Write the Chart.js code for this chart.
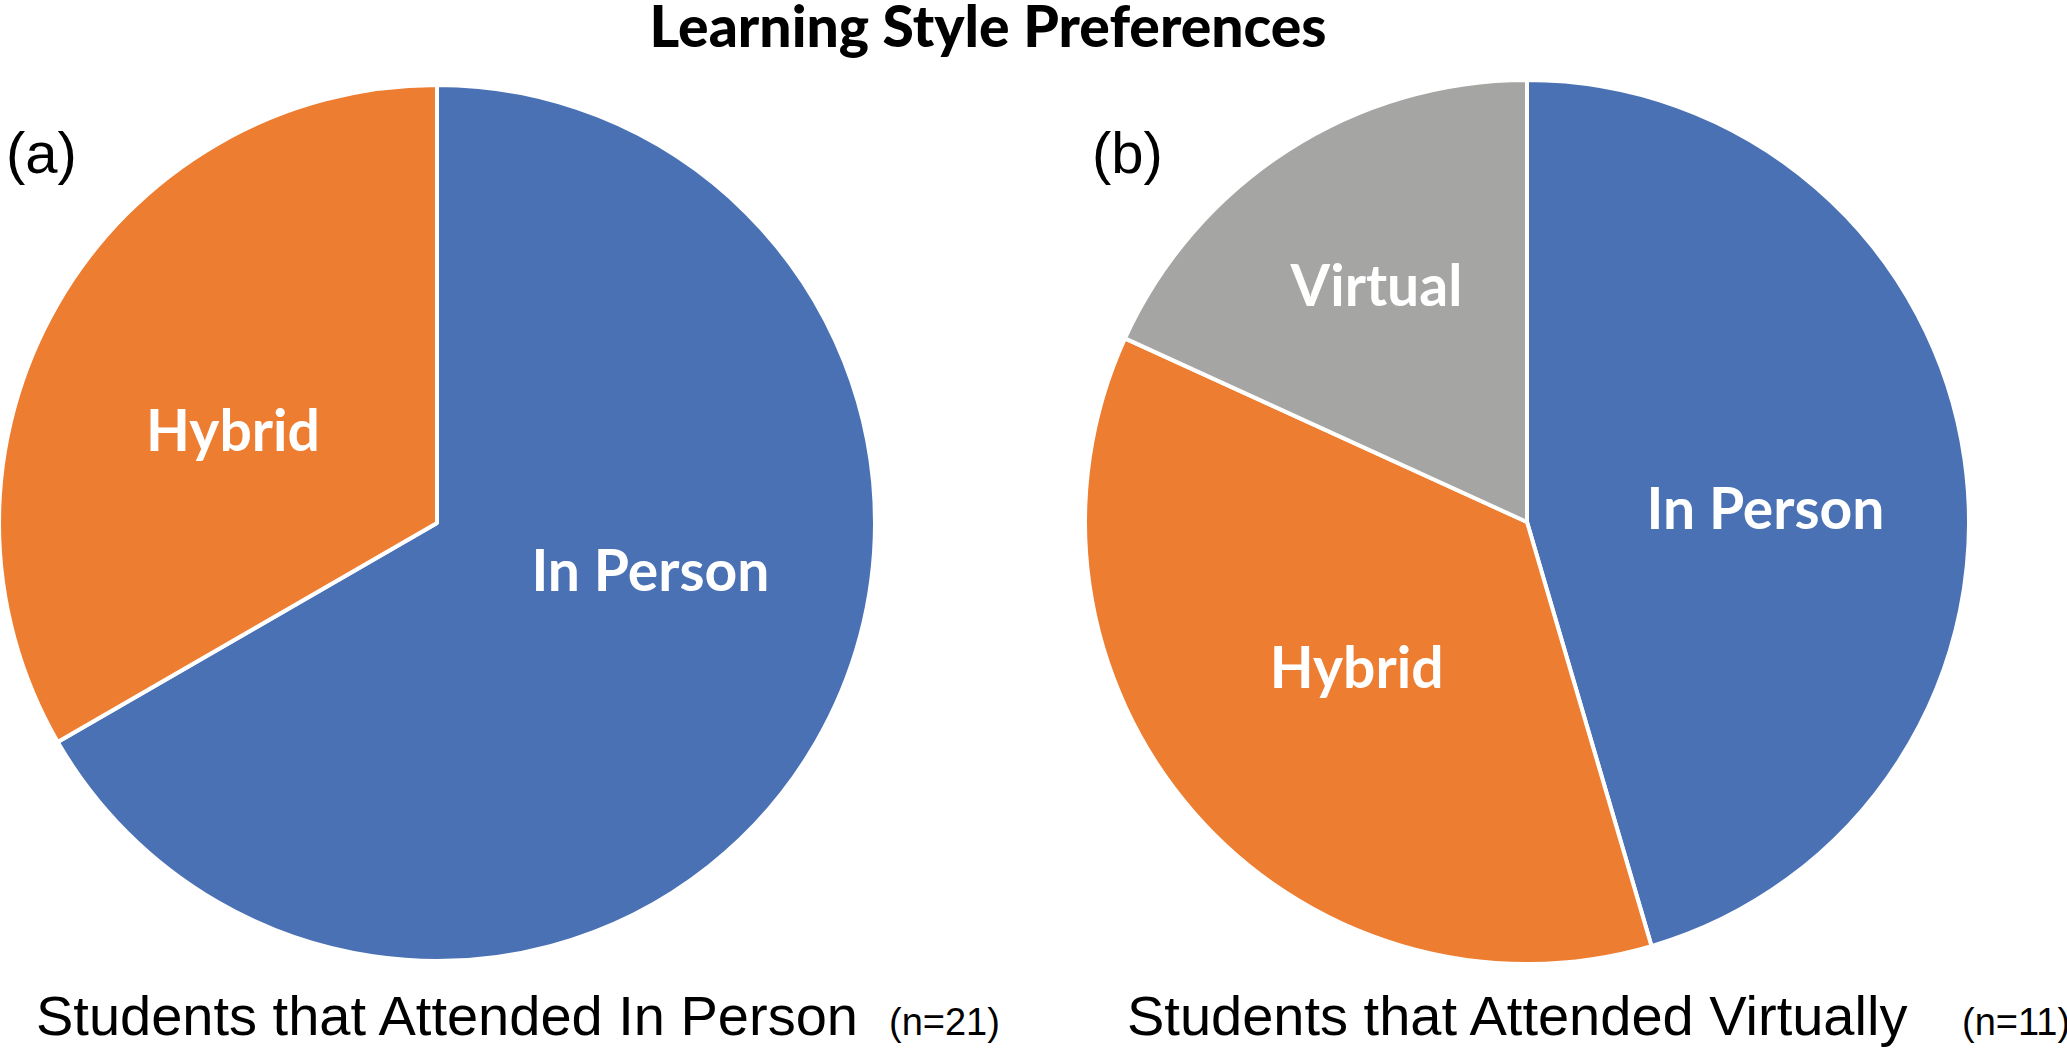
<!DOCTYPE html>
<html>
<head>
<meta charset="utf-8">
<script src="https://cdn.jsdelivr.net/npm/chart.js@4"></script>
<style>
  html, body { margin: 0; padding: 0; background: #fff; }
  #stage { position: relative; width: 2067px; height: 1049px; overflow: hidden; background: #fff; }
  canvas { position: absolute; }
  .txt { position: absolute; white-space: nowrap; color: #000; line-height: 1; z-index: 2; }
  #title { font-family: Lato, sans-serif; font-weight: 900; font-size: 57px; top: -3px; left: 988px; transform: translateX(-50%); }
  .tag { font-family: "Liberation Sans", Arial, sans-serif; font-size: 58px; top: 124px; }
  .cap { font-family: "Liberation Sans Narrow", "Liberation Sans", sans-serif; font-size: 56px; top: 988px; }
  .n { font-family: "Liberation Sans Narrow", "Liberation Sans", sans-serif; font-size: 38px; top: 1003px; }
</style>
</head>
<body>
<div id="stage">
  <canvas id="pieA" width="880" height="880" style="left:-3px; top:83px;"></canvas>
  <canvas id="pieB" width="888" height="888" style="left:1083px; top:78px;"></canvas>
  <div id="title" class="txt">Learning Style Preferences</div>
  <div class="txt tag" style="left:6px;">(a)</div>
  <div class="txt tag" style="left:1092px;">(b)</div>
  <div class="txt cap" style="left:36px;">Students that Attended In Person</div>
  <div class="txt n" style="left:889px;">(n=21)</div>
  <div class="txt cap" style="left:1127px;">Students that Attended Virtually</div>
  <div class="txt n" style="left:1962px;">(n=11)</div>
</div>
<script>
// --- data ---
const inPersonLabels = ['In Person', 'Hybrid'];
const inPersonCounts = [14, 7];          // n = 21
const virtualLabels = ['In Person', 'Hybrid', 'Virtual'];
const virtualCounts = [5, 4, 2];         // n = 11

const COLORS = {
    'In Person': '#4A71B4',
    'Hybrid': '#ED7D31',
    'Virtual': '#A5A5A4'
};

// draws the white bold labels inside each slice
const sliceLabels = {
    id: 'sliceLabels',
    afterDatasetsDraw(chart, args, opts) {
        const { ctx } = chart;
        const spots = opts.spots || [];
        ctx.save();
        ctx.font = '700 57px Lato, "Open Sans", sans-serif';
        ctx.fillStyle = '#ffffff';
        ctx.textAlign = 'center';
        ctx.textBaseline = 'middle';
        chart.getDatasetMeta(0).data.forEach((arc, i) => {
            const p = arc.getProps(['x', 'y', 'startAngle', 'endAngle', 'outerRadius'], true);
            const spot = spots[i] || { turn: 0, reach: 0.5 };
            const a = (p.startAngle + p.endAngle) / 2 + spot.turn * Math.PI / 180;
            const r = p.outerRadius * spot.reach;
            ctx.fillText(chart.data.labels[i], p.x + Math.cos(a) * r, p.y + Math.sin(a) * r);
        });
        ctx.restore();
    }
};

function makePie(id, labels, counts, spots) {
    return new Chart(document.getElementById(id), {
        type: 'pie',
        data: {
            labels: labels,
            datasets: [{
                data: counts,
                backgroundColor: labels.map(l => COLORS[l]),
                borderColor: '#ffffff',
                borderWidth: 4
            }]
        },
        options: {
            responsive: false,
            animation: false,
            devicePixelRatio: 1,
            layout: { padding: 0 },
            plugins: {
                legend: { display: false },
                tooltip: { enabled: false },
                sliceLabels: { spots: spots }
            }
        },
        plugins: [sliceLabels]
    });
}

makePie('pieA', inPersonLabels, inPersonCounts, [
    { turn: -17, reach: 0.50 },
    { turn: -6, reach: 0.51 }
]);
makePie('pieB', virtualLabels, virtualCounts, [
    { turn: 5.5, reach: 0.54 },
    { turn: 0, reach: 0.51 },
    { turn: 0, reach: 0.63 }
]);
</script>
</body>
</html>
